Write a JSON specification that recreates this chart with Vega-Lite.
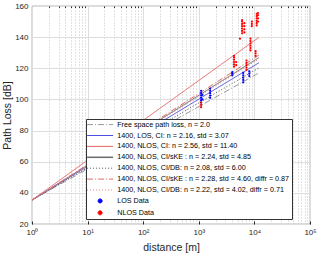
{
 "$schema": "https://vega.github.io/schema/vega-lite/v6.json",
 "width": 278, "height": 218,
 "autosize": {"type": "none"},
 "padding": {"left": 32, "top": 6, "right": 8, "bottom": 32},
 "background": "white",
 "config": {
  "font": "Liberation Sans",
  "view": {"stroke": "#262626", "strokeWidth": 0.8},
  "axis": {"domain": false, "labelColor": "#262626", "titleColor": "#262626", "titleFontWeight": "normal", "labelFontSize": 8, "titleFontSize": 10.5, "tickColor": "#262626", "gridOpacity": 1}
 },
 "resolve": {"axis": {"x": "independent"}},
 "encoding": {
  "y": {"field": "pl", "type": "quantitative",
    "scale": {"domain": [20, 160], "nice": false, "zero": false},
    "axis": {"title": "Path Loss [dB]", "values": [20,40,60,80,100,120,140,160], "grid": true, "gridColor": "#dedede", "ticks": false, "labelPadding": 4, "titlePadding": 2, "labelOverlap": false, "labelExpr": "format(datum.value, 'd')"}}
 },
 "layer": [
  {
   "data": {"values": [
    {"series": "Free space path loss, n = 2.0", "d": 1, "pl": 35.4},
    {"series": "Free space path loss, n = 2.0", "d": 12000, "pl": 117.0},
    {"series": "1400, LOS, CI: n = 2.16, std = 3.07", "d": 1, "pl": 35.4},
    {"series": "1400, LOS, CI: n = 2.16, std = 3.07", "d": 12000, "pl": 123.5},
    {"series": "1400, NLOS, CI: n = 2.56, std = 11.40", "d": 1, "pl": 35.4},
    {"series": "1400, NLOS, CI: n = 2.56, std = 11.40", "d": 12000, "pl": 139.8},
    {"series": "1400, NLOS, CI/sKE : n = 2.24, std = 4.85", "d": 1, "pl": 35.4},
    {"series": "1400, NLOS, CI/sKE : n = 2.24, std = 4.85", "d": 12000, "pl": 126.8},
    {"series": "1400, NLOS, CI/DB: n = 2.08, std = 6.00", "d": 1, "pl": 35.4},
    {"series": "1400, NLOS, CI/DB: n = 2.08, std = 6.00", "d": 12000, "pl": 120.2},
    {"series": "1400, NLOS, CI/sKE : n = 2.28, std = 4.60, diffr = 0.87", "d": 1, "pl": 35.4},
    {"series": "1400, NLOS, CI/sKE : n = 2.28, std = 4.60, diffr = 0.87", "d": 12000, "pl": 128.4},
    {"series": "1400, NLOS, CI/DB: n = 2.22, std = 4.02, diffr = 0.71", "d": 1, "pl": 35.4},
    {"series": "1400, NLOS, CI/DB: n = 2.22, std = 4.02, diffr = 0.71", "d": 12000, "pl": 126.0}
   ]},
   "mark": {"type": "line", "strokeWidth": 1, "clip": true},
   "encoding": {
    "x": {"field": "d", "type": "quantitative",
      "scale": {"type": "log", "domain": [1, 100000]},
      "axis": {"title": "distance [m]", "orient": "bottom",
        "values": [1, 10, 100, 1000, 10000, 100000],
        "labelExpr": "'10' + ['⁰','¹','²','³','⁴','⁵'][round(log(datum.value)/LN10)]",
        "grid": true, "gridColor": "#dedede", "labelOverlap": false,
        "tickSize": -3, "labelPadding": 7, "titlePadding": 6, "labelFlush": false}},
    "color": {"field": "series", "type": "nominal",
      "scale": {"domain": [
        "Free space path loss, n = 2.0",
        "1400, LOS, CI: n = 2.16, std = 3.07",
        "1400, NLOS, CI: n = 2.56, std = 11.40",
        "1400, NLOS, CI/sKE : n = 2.24, std = 4.85",
        "1400, NLOS, CI/DB: n = 2.08, std = 6.00",
        "1400, NLOS, CI/sKE : n = 2.28, std = 4.60, diffr = 0.87",
        "1400, NLOS, CI/DB: n = 2.22, std = 4.02, diffr = 0.71",
        "LOS Data", "NLOS Data"],
       "range": ["#9a9a9a", "#5050e0", "#e86464", "#6a6a6a", "#505050", "#e06a6a", "#e07c7c", "#0000ff", "#ff0000"]},
      "legend": {"orient": "none", "legendX": 54, "legendY": 113, "title": null,
        "padding": 2, "strokeColor": "#333333", "fillColor": "white",
        "symbolSize": 64, "symbolStrokeWidth": 1,
        "labelFontSize": 7.2, "labelLimit": 400, "labelOffset": 22, "rowPadding": 2.9, "labelColor": "#000000",
        "encode": {"symbols": {"update": {
          "shape": {"signal": "indexof(domain('color'), datum.value) >= 7 ? 'M10.5,0A2,2 0 1,1 6.5,0A2,2 0 1,1 10.5,0Z' : 'M-4.5,0H21.5'"},
          "size": {"value": 4},
          "strokeDash": {"signal": "[[6,2,1,2],[],[],[],[1,2],[6,2,1,2],[1,2],[],[]][indexof(domain('color'), datum.value)]"},
          "stroke": {"scale": "color", "field": "value"},
          "fill": {"signal": "indexof(domain('color'), datum.value) >= 7 ? scale('color', datum.value) : 'transparent'"},
          "strokeWidth": {"signal": "indexof(domain('color'), datum.value) == 3 ? 1.5 : 1"},
          "opacity": {"value": 1}
        }}}}},
    "strokeDash": {"field": "series", "type": "nominal",
      "scale": {"domain": [
        "Free space path loss, n = 2.0",
        "1400, LOS, CI: n = 2.16, std = 3.07",
        "1400, NLOS, CI: n = 2.56, std = 11.40",
        "1400, NLOS, CI/sKE : n = 2.24, std = 4.85",
        "1400, NLOS, CI/DB: n = 2.08, std = 6.00",
        "1400, NLOS, CI/sKE : n = 2.28, std = 4.60, diffr = 0.87",
        "1400, NLOS, CI/DB: n = 2.22, std = 4.02, diffr = 0.71"],
       "range": [[6,2,1,2],[1,0],[1,0],[1,0],[1,2],[6,2,1,2],[1,2]]},
      "legend": null}
   }
  },
  {
   "data": {"values": [
    {"series": "LOS Data", "d": 1100, "pl": 98},
    {"series": "LOS Data", "d": 1100, "pl": 99.5},
    {"series": "LOS Data", "d": 1100, "pl": 101},
    {"series": "LOS Data", "d": 1100, "pl": 102.5},
    {"series": "LOS Data", "d": 1100, "pl": 104},
    {"series": "LOS Data", "d": 1100, "pl": 105.5},
    {"series": "LOS Data", "d": 1160, "pl": 100},
    {"series": "LOS Data", "d": 1160, "pl": 103},
    {"series": "LOS Data", "d": 1600, "pl": 101},
    {"series": "LOS Data", "d": 1600, "pl": 102.5},
    {"series": "LOS Data", "d": 1600, "pl": 104},
    {"series": "LOS Data", "d": 1600, "pl": 105.5},
    {"series": "LOS Data", "d": 1600, "pl": 107},
    {"series": "LOS Data", "d": 4000, "pl": 115.5},
    {"series": "LOS Data", "d": 4000, "pl": 116.5},
    {"series": "LOS Data", "d": 4000, "pl": 117.5},
    {"series": "LOS Data", "d": 6300, "pl": 111},
    {"series": "LOS Data", "d": 6300, "pl": 112.5},
    {"series": "LOS Data", "d": 6300, "pl": 114},
    {"series": "LOS Data", "d": 6300, "pl": 115.5},
    {"series": "LOS Data", "d": 6300, "pl": 117},
    {"series": "LOS Data", "d": 8100, "pl": 115},
    {"series": "LOS Data", "d": 8100, "pl": 116.5},
    {"series": "LOS Data", "d": 8100, "pl": 118},
    {"series": "NLOS Data", "d": 1100, "pl": 95},
    {"series": "NLOS Data", "d": 1100, "pl": 96.5},
    {"series": "NLOS Data", "d": 1100, "pl": 98},
    {"series": "NLOS Data", "d": 4300, "pl": 121},
    {"series": "NLOS Data", "d": 4300, "pl": 122.5},
    {"series": "NLOS Data", "d": 4300, "pl": 124},
    {"series": "NLOS Data", "d": 4300, "pl": 125.5},
    {"series": "NLOS Data", "d": 4300, "pl": 127},
    {"series": "NLOS Data", "d": 4300, "pl": 128},
    {"series": "NLOS Data", "d": 4700, "pl": 122},
    {"series": "NLOS Data", "d": 4700, "pl": 124},
    {"series": "NLOS Data", "d": 5500, "pl": 139},
    {"series": "NLOS Data", "d": 6000, "pl": 142.5},
    {"series": "NLOS Data", "d": 6000, "pl": 144},
    {"series": "NLOS Data", "d": 6000, "pl": 145.5},
    {"series": "NLOS Data", "d": 6000, "pl": 147},
    {"series": "NLOS Data", "d": 6000, "pl": 148.5},
    {"series": "NLOS Data", "d": 6000, "pl": 150},
    {"series": "NLOS Data", "d": 6000, "pl": 151},
    {"series": "NLOS Data", "d": 6600, "pl": 143},
    {"series": "NLOS Data", "d": 6600, "pl": 145},
    {"series": "NLOS Data", "d": 6600, "pl": 147},
    {"series": "NLOS Data", "d": 6600, "pl": 149},
    {"series": "NLOS Data", "d": 7200, "pl": 119},
    {"series": "NLOS Data", "d": 7200, "pl": 120.5},
    {"series": "NLOS Data", "d": 7200, "pl": 122},
    {"series": "NLOS Data", "d": 7200, "pl": 123.5},
    {"series": "NLOS Data", "d": 7200, "pl": 125},
    {"series": "NLOS Data", "d": 8500, "pl": 131.5},
    {"series": "NLOS Data", "d": 8500, "pl": 133},
    {"series": "NLOS Data", "d": 8500, "pl": 134.5},
    {"series": "NLOS Data", "d": 8500, "pl": 136},
    {"series": "NLOS Data", "d": 8500, "pl": 137.5},
    {"series": "NLOS Data", "d": 8500, "pl": 139},
    {"series": "NLOS Data", "d": 9000, "pl": 147},
    {"series": "NLOS Data", "d": 9000, "pl": 148.5},
    {"series": "NLOS Data", "d": 9000, "pl": 150},
    {"series": "NLOS Data", "d": 10500, "pl": 128},
    {"series": "NLOS Data", "d": 10500, "pl": 129.5},
    {"series": "NLOS Data", "d": 10500, "pl": 131},
    {"series": "NLOS Data", "d": 11000, "pl": 147.5},
    {"series": "NLOS Data", "d": 11000, "pl": 149},
    {"series": "NLOS Data", "d": 11000, "pl": 150.5},
    {"series": "NLOS Data", "d": 11000, "pl": 152},
    {"series": "NLOS Data", "d": 11000, "pl": 153.5},
    {"series": "NLOS Data", "d": 11000, "pl": 155},
    {"series": "NLOS Data", "d": 11600, "pl": 150},
    {"series": "NLOS Data", "d": 11600, "pl": 152},
    {"series": "NLOS Data", "d": 11600, "pl": 154},
    {"series": "NLOS Data", "d": 11600, "pl": 155.5}
   ]},
   "mark": {"type": "point", "filled": true, "size": 5, "opacity": 1},
   "encoding": {
    "x": {"field": "d", "type": "quantitative",
      "axis": {"orient": "top", "title": null, "labels": false,
        "values": [2,3,4,5,6,7,8,9,20,30,40,50,60,70,80,90,200,300,400,500,600,700,800,900,2000,3000,4000,5000,6000,7000,8000,9000,20000,30000,40000,50000,60000,70000,80000,90000],
        "grid": true, "gridColor": "#c4c4c4", "gridDash": [1, 2], "tickSize": -1.5}},
    "color": {"field": "series", "type": "nominal"}
   }
  }
 ]
}
